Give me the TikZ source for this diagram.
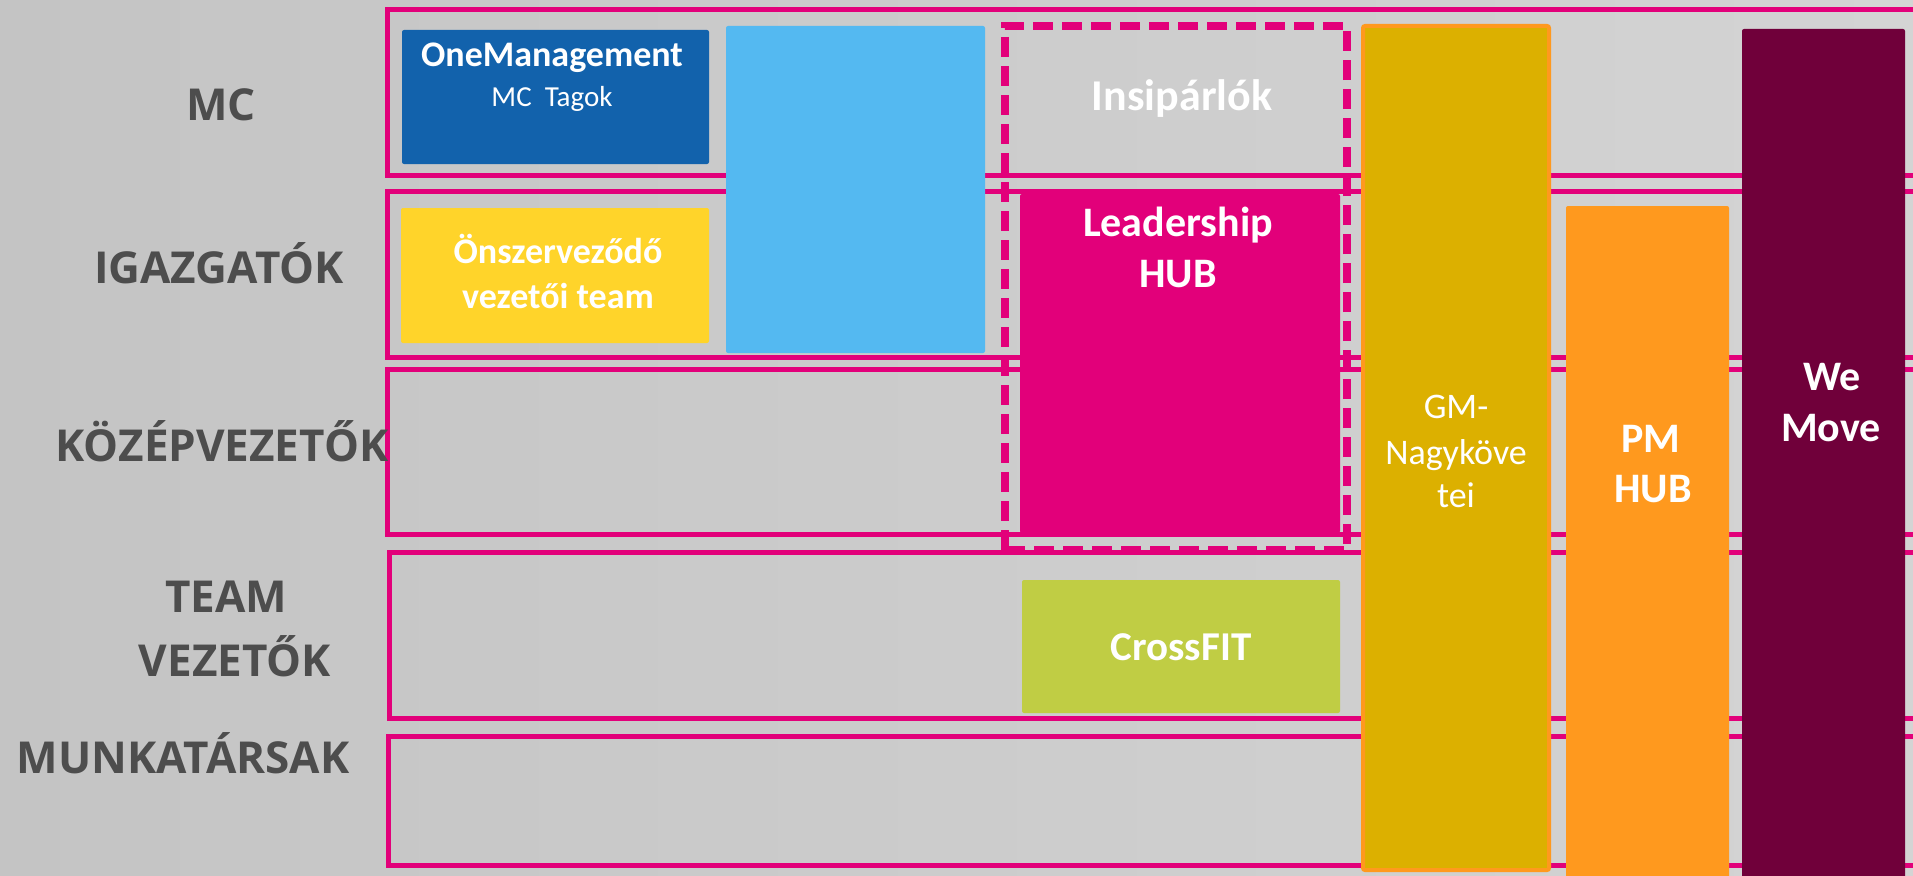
\documentclass[tikz,border=0pt]{standalone}
\usepackage{fontspec}
\setmainfont{Carlito}
\newfontfamily\labelfont{Open Sans}
\definecolor{hubpink}{RGB}{226,0,122}
\definecolor{onemblue}{RGB}{18,98,172}
\definecolor{selfyellow}{RGB}{255,212,42}
\definecolor{skyblue}{RGB}{84,185,241}
\definecolor{gmgold}{RGB}{220,176,0}
\definecolor{pmorange}{RGB}{255,153,30}
\definecolor{wemaroon}{RGB}{112,0,58}
\definecolor{crossgreen}{RGB}{192,205,68}
\definecolor{lblgray}{RGB}{77,77,77}
\definecolor{concreteA}{RGB}{196,196,196}
\definecolor{concreteB}{RGB}{212,212,212}
\begin{document}
\begin{tikzpicture}[x=1pt,y=-1pt,
  rowbox/.style={rectangle, draw=hubpink, line width=5pt, inner sep=0pt, outer sep=0pt, anchor=north west},
  blk/.style={rectangle, rounded corners=2pt, inner sep=0pt, outer sep=0pt, anchor=north west},
  lbl/.style={anchor=base, text=lblgray, inner sep=0pt, font=\labelfont\bfseries\fontsize{44}{50}\selectfont},
  wbold/.style={anchor=base, text=white, inner sep=0pt, font=\bfseries\fontsize{#1}{#1}\selectfont},
  wreg/.style={anchor=base, text=white, inner sep=0pt, font=\fontsize{#1}{#1}\selectfont}]
\useasboundingbox (0,0) rectangle (1913,875);
\clip (0,0) rectangle (1913,875);
\shade[left color=concreteA, right color=concreteB] (0,0) rectangle (1913,875);
% rows
\node[rowbox, minimum width=1560, minimum height=166] (rowMC) at (387,9.5) {};
\node[rowbox, minimum width=1560, minimum height=166.5] (rowIG) at (387,191) {};
\node[rowbox, minimum width=1560, minimum height=164.5] (rowKV) at (387,369.5) {};
\node[rowbox, minimum width=1560, minimum height=166] (rowTV) at (389,552) {};
\node[rowbox, minimum width=1560, minimum height=129] (rowMT) at (388,736.5) {};
% row labels
\node[lbl] (lMC) at (221,120.6) {MC};
\node[lbl] (lIG) at (219,283) {IGAZGATÓK};
\node[lbl] (lKV) at (222,461) {KÖZÉPVEZETŐK};
\node[lbl] (lTV1) at (226,612.6) {TEAM};
\node[lbl] (lTV2) at (235,676.6) {VEZETŐK};
\node[lbl] (lMT) at (183,773.5) {MUNKATÁRSAK};
% boxes
\node[blk, fill=onemblue, minimum width=307, minimum height=134] (onem) at (402,30) {};
\node[wbold=36] (onemT) at (552,66.7) {OneManagement};
\node[wreg=29] (onemS) at (552,106) {MC~ Tagok};
\node[blk, fill=selfyellow, minimum width=308, minimum height=135] (self) at (401,208) {};
\node[wbold=36] (selfT1) at (558,263) {Önszerveződő};
\node[wbold=36] (selfT2) at (558,308) {vezetői team};
\node[blk, fill=skyblue, minimum width=259, minimum height=327] (sky) at (726,26) {};
% inspirers dashed frame
\node[rectangle, draw=hubpink, line width=8pt, dash pattern=on 20pt off 9pt, inner sep=0pt, outer sep=0pt, anchor=north west, minimum width=342, minimum height=523.5] (insp) at (1005,26.5) {};
\node[wbold=44] (inspT) at (1182,110) {Insipárlók};
\node[blk, fill=hubpink, minimum width=320, minimum height=339] (lead) at (1020,194) {};
\node[wbold=42] (leadT1) at (1178,236.7) {Leadership};
\node[wbold=42] (leadT2) at (1178,287) {HUB};
\node[blk, fill=crossgreen, minimum width=318, minimum height=133] (cross) at (1022,580) {};
\node[wbold=41] (crossT) at (1181,660.7) {CrossFIT};
% columns
\node[blk, fill=gmgold, draw=pmorange, line width=4pt, minimum width=186, minimum height=844] (gm) at (1363,26) {};
\node[wreg=36] (gmT1) at (1456,418.7) {GM-};
\node[wreg=36] (gmT2) at (1456,464) {Nagyköve};
\node[wreg=36] (gmT3) at (1456,507.5) {tei};
\node[blk, fill=pmorange, minimum width=163, minimum height=700] (pm) at (1566,206) {};
\node[wbold=42] (pmT1) at (1651,452) {PM};
\node[wbold=42] (pmT2) at (1653,502) {HUB};
\node[blk, fill=wemaroon, minimum width=163, minimum height=880] (we) at (1742,29) {};
\node[wbold=42] (weT1) at (1832,390) {We};
\node[wbold=42] (weT2) at (1831,441) {Move};
\end{tikzpicture}
\end{document}
